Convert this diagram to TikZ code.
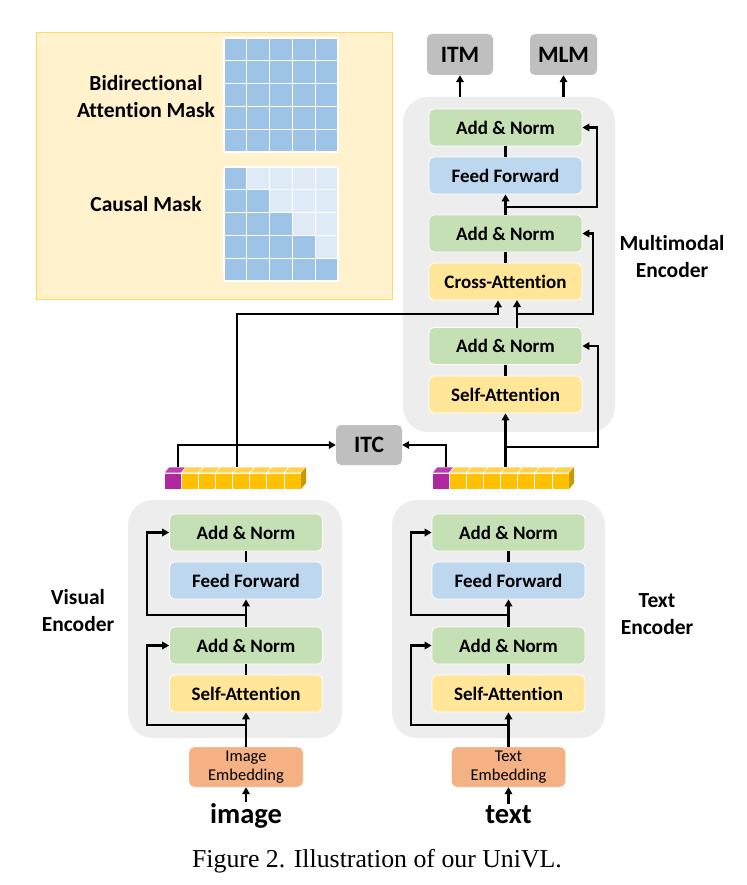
\documentclass[tikz,border=0pt]{standalone}
\usepackage{fontspec}
\setmainfont{Carlito}[Ligatures={NoCommon,NoRare}]
\newfontfamily\capfont{Liberation Serif}
\usetikzlibrary{arrows.meta,calc}

\definecolor{cgreen}{HTML}{C5E0B4}
\definecolor{cblue}{HTML}{BDD7EE}
\definecolor{cyel}{HTML}{FFE699}
\definecolor{corange}{HTML}{F4B183}
\definecolor{cgray}{HTML}{BFBFBF}
\definecolor{cbg}{HTML}{EDEDED}
\definecolor{cpanel}{HTML}{FFF2CC}
\definecolor{cpanelb}{HTML}{FFD966}
\definecolor{cmask}{HTML}{9DC3E6}
\definecolor{cmasklt}{HTML}{DEEBF7}
\definecolor{cpurple}{HTML}{B0279E}
\definecolor{cpurpletop}{HTML}{BE3DAD}
\definecolor{cgold}{HTML}{FFC000}
\definecolor{cgoldtop}{HTML}{FFD24D}
\definecolor{cgoldside}{HTML}{C99A00}

\tikzset{
 blk/.style={rounded corners=5pt, draw=white, line width=0.8pt, minimum width=153pt, minimum height=37pt, inner sep=0pt, font=\fontsize{19}{22}\selectfont\bfseries},
 an/.style={blk, fill=cgreen},
 ff/.style={blk, fill=cblue},
 att/.style={blk, fill=cyel},
 emb/.style={rounded corners=5pt, draw=white, fill=corange, minimum width=114pt, minimum height=40pt, inner sep=0pt, align=center, font=\fontsize{16.5}{19}\selectfont},
 head/.style={rounded corners=5pt, fill=cgray, minimum width=66pt, minimum height=41pt, inner sep=0pt, font=\fontsize{23.5}{26}\selectfont\bfseries},
 bg/.style={rounded corners=25pt, fill=cbg, inner sep=0pt},
 lbl/.style={align=center, inner sep=0pt, font=\fontsize{21.5}{27}\selectfont\bfseries},
 inp/.style={inner sep=1pt, anchor=base, font=\fontsize{28.5}{32}\selectfont\bfseries},
 wire/.style={line width=2.2pt},
 arr/.style={wire, -{Triangle[length=7pt,width=7.5pt]}},
 cell/.style={draw=white, line width=1.2pt},
 tok/.style={draw=white, line width=0.6pt},
}

\begin{document}
\begin{tikzpicture}[x=1pt,y=-1pt]
\useasboundingbox (0,0) rectangle (746,885);

% ---------- mask panel ----------
\node[draw=cpanelb, fill=cpanel, line width=1pt, minimum width=356pt, minimum height=266pt, inner sep=0pt] (panel) at (214,166) {};
\foreach \r in {0,...,4}{
  \foreach \c in {0,...,4}{
    \filldraw[cell, fill=cmask] ({224+\c*22.8},{38+\r*22.8}) rectangle ++(22.8,22.8);
    \ifnum\c>\r
      \filldraw[cell, fill=cmasklt] ({224+\c*22.8},{167+\r*22.8}) rectangle ++(22.8,22.8);
    \else
      \filldraw[cell, fill=cmask] ({224+\c*22.8},{167+\r*22.8}) rectangle ++(22.8,22.8);
    \fi
  }
}
\node[lbl] (bidir) at (146,97) {Bidirectional\\Attention Mask};
\node[lbl] (causal) at (146,204) {Causal Mask};

% ---------- multimodal encoder ----------
\node[bg, minimum width=212pt, minimum height=335pt] (mmbg) at (509,264.5) {};
\node[an]  (mAN2) at (505.5,127.5) {Add \& Norm};
\node[ff]  (mFF)  at (505.5,175.5) {Feed Forward};
\node[an]  (mAN1) at (505.5,233.5) {Add \& Norm};
\node[att] (mCA)  at (505.5,281.5) {Cross-Attention};
\node[an]  (mAN0) at (505.5,346) {Add \& Norm};
\node[att] (mSA)  at (505.5,394.5) {Self-Attention};
\node[head] (itm) at (460,54.5) {ITM};
\node[head, minimum width=67pt] (mlm) at (563.5,54.5) {MLM};
\node[lbl] (mmlbl) at (672,257) {Multimodal\\Encoder};
\node[head, minimum height=40pt] (itc) at (369,445) {ITC};

% ---------- visual encoder ----------
\node[bg, minimum width=214pt, minimum height=238pt] (vbg) at (235,619) {};
\node[an]  (vAN2) at (246,532.5) {Add \& Norm};
\node[ff]  (vFF)  at (246,580.5) {Feed Forward};
\node[an]  (vAN1) at (246,645.5) {Add \& Norm};
\node[att] (vSA)  at (246,693.5) {Self-Attention};
\node[emb] (vEmb) at (246,767) {Image\\Embedding};
\node[inp] (vin)  at (246,823) {image};
\node[lbl] (vlbl) at (78,611) {Visual\\Encoder};

% ---------- text encoder ----------
\node[bg, minimum width=213pt, minimum height=238pt] (tbg) at (498.5,619) {};
\node[an]  (tAN2) at (508.5,532.5) {Add \& Norm};
\node[ff]  (tFF)  at (508.5,580.5) {Feed Forward};
\node[an]  (tAN1) at (508.5,645.5) {Add \& Norm};
\node[att] (tSA)  at (508.5,693.5) {Self-Attention};
\node[emb] (tEmb) at (508.5,767) {Text\\Embedding};
\node[inp] (tin)  at (508.5,823) {text};
\node[lbl] (tlbl) at (657,614) {Text\\Encoder};

% ---------- token bars ----------
\foreach \bx in {164,432}{
  \foreach \i in {0,...,7}{
    \ifnum\i=0 \def\fc{cpurple}\def\tc{cpurpletop}\else\def\fc{cgold}\def\tc{cgoldtop}\fi
    \filldraw[tok, fill=\tc] ({\bx+\i*17.125},473) -- ++(5,-6) -- ++(17.125,0) -- ++(-5,6) -- cycle;
    \filldraw[tok, fill=\fc] ({\bx+\i*17.125},473) rectangle ++(17.125,16);
  }
  \fill[cgoldside] ({\bx+137},473) -- ++(5,-6) -- ++(0,16) -- ++(-5,6) -- cycle;
}
\node[minimum width=137pt, minimum height=22pt, inner sep=0pt, anchor=north west] (vbar) at (164,467) {};
\node[minimum width=137pt, minimum height=22pt, inner sep=0pt, anchor=north west] (tbar) at (432,467) {};

% ---------- visual connectors ----------
\draw[arr] (vin.north) -- (vEmb.south);
\draw[arr] (vEmb) -- (vSA);
\draw[wire] (vSA) -- (vAN1);
\draw[arr] (vAN1) -- (vFF);
\draw[wire] (vFF) -- (vAN2);
\coordinate (vr1) at (246,725);
\coordinate (vr1c) at (147,725);
\draw[arr] (vr1) -- (vr1c) |- (vAN1.west);
\coordinate (vr2) at (246,615);
\coordinate (vr2c) at (147,615);
\draw[arr] (vr2) -- (vr2c) |- (vAN2.west);

% ---------- text connectors ----------
\draw[arr] (tin.north) -- (tEmb.south);
\draw[arr] (tEmb) -- (tSA);
\draw[wire] (tSA) -- (tAN1);
\draw[arr] (tAN1) -- (tFF);
\draw[wire] (tFF) -- (tAN2);
\coordinate (tr1) at (508.5,725);
\coordinate (tr1c) at (411,725);
\draw[arr] (tr1) -- (tr1c) |- (tAN1.west);
\coordinate (tr2) at (508.5,615);
\coordinate (tr2c) at (411,615);
\draw[arr] (tr2) -- (tr2c) |- (tAN2.west);

% ---------- ITC ----------
\coordinate (vitc) at (178,467);
\draw[arr] (vitc) |- (itc.west);
\coordinate (titc) at (446,467);
\draw[arr] (titc) |- (itc.east);

% ---------- multimodal connectors ----------
\draw[arr] (mSA.south |- tbar.north) -- (mSA.south);
\coordinate (mr0) at (505.5,447);
\coordinate (mr0c) at (598,447);
\draw[arr] (mr0) -- (mr0c) |- (mAN0.east);
\draw[wire] (mSA) -- (mAN0);
\coordinate (caR0) at (517,328);
\coordinate (caR1) at (517,300);
\draw[arr] (caR0) -- (caR1);
\coordinate (mr1) at (517,314);
\coordinate (mr1c) at (593,314);
\draw[arr] (mr1) -- (mr1c) |- (mAN1.east);
\coordinate (vtap) at (237,467);
\coordinate (vbend) at (237,314);
\coordinate (cal) at (498,314);
\draw[arr] (vtap) -- (vbend) -- (cal) -- (cal |- mCA.south);
\draw[wire] (mCA) -- (mAN1);
\draw[arr] (mAN1) -- (mFF);
\coordinate (mr2) at (505.5,207);
\coordinate (mr2c) at (597,207);
\draw[arr] (mr2) -- (mr2c) |- (mAN2.east);
\draw[wire] (mFF) -- (mAN2);
\draw[arr] (itm.south |- mmbg.north) -- (itm.south);
\draw[arr] (mlm.south |- mmbg.north) -- (mlm.south);

% ---------- caption ----------
\node[anchor=base, inner sep=0pt, font=\capfont\fontsize{25.8}{30}\selectfont] (cap) at (377,867) {Figure 2. Illustration of our UniVL.};
\end{tikzpicture}
\end{document}
